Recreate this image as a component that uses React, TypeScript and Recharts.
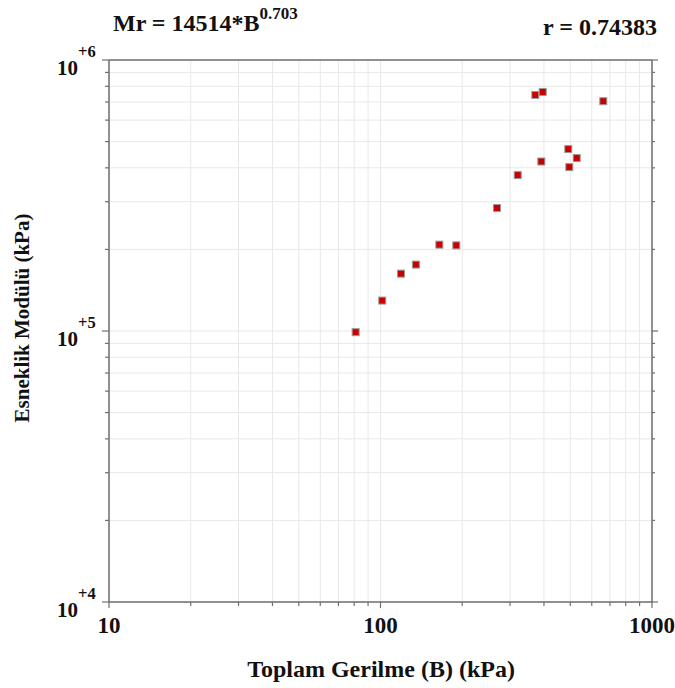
import React from "react";
import { ScatterChart, Scatter, XAxis, YAxis, CartesianGrid } from "recharts";

// Toplam gerilme (kPa) / esneklik modülü (kPa)
const stress = [81, 101.5, 119, 135, 164.7, 190.2, 268.6, 320.2, 371.7, 395.8, 391.2, 491.7, 495.9, 528.1, 661.6];
const modulus = [99000, 129500, 162800, 175800, 208300, 207000, 284300, 376100, 743200, 762300, 422100, 469000, 402500, 434600, 704600];

const xTicks = [10, 20, 30, 40, 50, 60, 70, 80, 90, 100, 200, 300, 400, 500, 600, 700, 800, 900, 1000];
const yTicks = [
  10000, 20000, 30000, 40000, 50000, 60000, 70000, 80000, 90000,
  100000, 200000, 300000, 400000, 500000, 600000, 700000, 800000, 900000, 1000000,
];

const points = stress.map((b, i) => ({ b, mr: modulus[i] }));

const FONT = "'Liberation Serif', 'Times New Roman', serif";
const AXIS = "#6f6f6f";
const GRID = "#e8e8e8";

const isMajor = (v: number) => Math.abs(Math.log10(v) - Math.round(Math.log10(v))) < 1e-9;

const BottomTick = (props: any) => {
  const { x, y, payload } = props;
  const major = isMajor(payload.value);
  return (
    <g>
      <line x1={x} x2={x} y1={y} y2={y + (major ? 6 : 4)} stroke={AXIS} strokeWidth={1.2} />
      {major && (
        <text x={x} y={y + 31} textAnchor="middle" fontFamily={FONT} fontWeight="bold" fontSize={23} fill="#111">
          {payload.value}
        </text>
      )}
    </g>
  );
};

const TopTick = (props: any) => {
  const { x, y, payload } = props;
  const major = isMajor(payload.value);
  return <line x1={x} x2={x} y1={y} y2={y - (major ? 6 : 3)} stroke={AXIS} strokeWidth={1.2} />;
};

const LeftTick = (props: any) => {
  const { x, y, payload } = props;
  const major = isMajor(payload.value);
  const exp = Math.round(Math.log10(payload.value));
  return (
    <g>
      <line x1={x} x2={x - (major ? 7 : 4)} y1={y} y2={y} stroke={AXIS} strokeWidth={1.2} />
      {major && (
        <g fontFamily={FONT} fontWeight="bold" fill="#111">
          <text x={x - 31} y={y + 15} textAnchor="end" fontSize={21}>10</text>
          <text x={x - 31} y={y - 3} fontSize={16.5}>+{exp}</text>
        </g>
      )}
    </g>
  );
};

const RightTick = (props: any) => {
  const { x, y, payload } = props;
  const major = isMajor(payload.value);
  return <line x1={x} x2={x + (major ? 6 : 3)} y1={y} y2={y} stroke={AXIS} strokeWidth={1.2} />;
};

const Marker = (props: any) => {
  const { cx, cy } = props;
  return <rect x={cx - 3.5} y={cy - 3.5} width={7} height={7} fill="#c80000" stroke="#9a9a9a" strokeWidth={1} />;
};

const textStyle: React.CSSProperties = {
  position: "absolute",
  fontFamily: FONT,
  fontWeight: "bold",
  lineHeight: 1,
  color: "#111",
  whiteSpace: "nowrap",
};

export default function App() {
  return (
    <div style={{ position: "absolute", left: 0, top: 0, width: 675, height: 688, background: "#fff" }}>
      <ScatterChart width={675} height={688} margin={{ top: 50, right: 13, bottom: 36, left: 49 }}>
        <CartesianGrid stroke={GRID} strokeWidth={1} horizontalValues={yTicks} verticalValues={xTicks} />
        <XAxis
          dataKey="b"
          type="number"
          scale="log"
          domain={[10, 1000]}
          allowDataOverflow
          ticks={xTicks}
          interval={0}
          height={50}
          tickSize={0}
          tickMargin={0}
          tick={<BottomTick />}
          tickLine={false}
          axisLine={{ stroke: AXIS, strokeWidth: 1.5 }}
        />
        <XAxis
          xAxisId="top"
          orientation="top"
          type="number"
          scale="log"
          domain={[10, 1000]}
          allowDataOverflow
          ticks={xTicks}
          interval={0}
          height={10}
          tickSize={0}
          tickMargin={0}
          tick={<TopTick />}
          tickLine={false}
          axisLine={{ stroke: AXIS, strokeWidth: 1.5 }}
        />
        <YAxis
          dataKey="mr"
          type="number"
          scale="log"
          domain={[10000, 1000000]}
          allowDataOverflow
          ticks={yTicks}
          interval={0}
          width={60}
          tickSize={0}
          tickMargin={0}
          tick={<LeftTick />}
          tickLine={false}
          axisLine={{ stroke: AXIS, strokeWidth: 1.5 }}
        />
        <YAxis
          yAxisId="right"
          orientation="right"
          type="number"
          scale="log"
          domain={[10000, 1000000]}
          allowDataOverflow
          ticks={yTicks}
          interval={0}
          width={10}
          tickSize={0}
          tickMargin={0}
          tick={<RightTick />}
          tickLine={false}
          axisLine={{ stroke: AXIS, strokeWidth: 1.5 }}
        />
        <Scatter data={points} shape={<Marker />} isAnimationActive={false} />
      </ScatterChart>

      <div style={{ ...textStyle, left: 113, top: 11, fontSize: 24 }}>
        Mr = 14514*B
        <span style={{ fontSize: 17, position: "relative", top: -12 }}>0.703</span>
      </div>
      <div style={{ ...textStyle, right: 18, top: 15, fontSize: 24 }}>r = 0.74383</div>
      <div style={{ ...textStyle, left: 0, width: 762, top: 657, textAlign: "center", fontSize: 24 }}>
        Toplam Gerilme (B) (kPa)
      </div>
      <div
        style={{
          ...textStyle,
          left: 22,
          top: 318,
          transform: "translate(-50%, -50%) rotate(-90deg)",
          fontSize: 21,
        }}
      >
        Esneklik Modülü (kPa)
      </div>
    </div>
  );
}
